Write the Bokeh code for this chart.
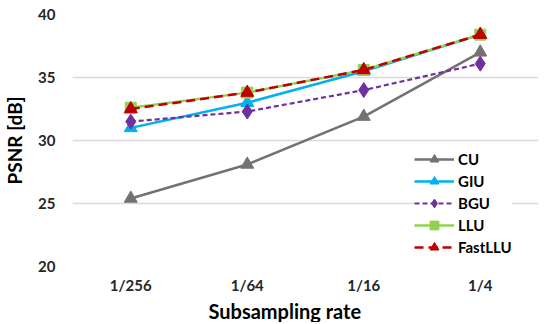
from bokeh.plotting import figure
from bokeh.models import FactorRange, Range1d, Legend, LegendItem, FixedTicker, Title
from bokeh.embed import file_html
from bokeh.resources import INLINE

categories = ["1/256", "1/64", "1/16", "1/4"]
cu = [25.4, 28.1, 31.9, 37.0]
giu = [31.0, 33.0, 35.5, 38.4]
bgu = [31.5, 32.3, 34.0, 36.1]
llu = [32.6, 33.8, 35.6, 38.4]
fastllu = [32.5, 33.8, 35.6, 38.4]
y_ticks = [20, 25, 30, 35, 40]

FONT = "Lato"

p = figure(x_range=FactorRange(*categories), y_range=Range1d(20, 40),
           width=538, height=322, output_backend="svg", toolbar_location=None,
           min_border_left=66, min_border_right=0, min_border_top=14, min_border_bottom=20)
p.outline_line_color = None
p.xgrid.grid_line_color = None
p.ygrid.grid_line_color = "#d9d9d9"
p.ygrid.grid_line_width = 1.5
p.yaxis.ticker = FixedTicker(ticks=y_ticks)
for ax in (p.xaxis, p.yaxis):
    ax.axis_line_color = None
    ax.major_tick_line_color = None
    ax.minor_tick_line_color = None
    ax.major_tick_out = 0
    ax.major_tick_in = 0
    ax.minor_tick_out = 0
    ax.minor_tick_in = 0
    ax.major_label_text_font = FONT
    ax.major_label_text_font_style = "bold"
    ax.major_label_text_font_size = "15px"
    ax.major_label_text_color = "#262626"
    ax.axis_label_text_font = FONT
    ax.axis_label_text_font_style = "bold"
    ax.axis_label_text_font_size = "19px"
    ax.axis_label_text_color = "#000000"
p.yaxis.major_label_standoff = 17
p.xaxis.major_label_standoff = 9
p.xaxis.axis_label_standoff = 0
p.yaxis.axis_label = "PSNR [dB]"
p.yaxis.axis_label_standoff = 9

xtitle = Title(text="Subsampling rate", align="left", offset=136, standoff=0,
               text_font=FONT, text_font_style="bold", text_font_size="20px",
               text_color="#000000")
p.add_layout(xtitle, "below")

items = []
r1 = p.line(categories, cu, line_color="#767171", line_width=2.5)
m1 = p.scatter(categories, cu, marker="triangle", size=13, color="#767171")
items.append(LegendItem(label="CU", renderers=[r1, m1]))
r2 = p.line(categories, giu, line_color="#00b0f0", line_width=2.5)
m2 = p.scatter(categories, giu, marker="triangle", size=13, color="#00b0f0")
items.append(LegendItem(label="GIU", renderers=[r2, m2]))
r3 = p.line(categories, bgu, line_color="#7030a0", line_width=2.2, line_dash="5 3")
m3 = p.scatter(categories, bgu, marker="diamond", size=15, color="#7030a0")
items.append(LegendItem(label="BGU", renderers=[r3, m3]))
r4 = p.line(categories, llu, line_color="#92d050", line_width=2.5)
m4 = p.scatter(categories, llu, marker="square", size=11, color="#92d050")
items.append(LegendItem(label="LLU", renderers=[r4, m4]))
r5 = p.line(categories, fastllu, line_color="#c00000", line_width=2.5, line_dash="9 5")
m5 = p.scatter(categories, fastllu, marker="triangle", size=13, color="#c00000")
items.append(LegendItem(label="FastLLU", renderers=[r5, m5]))

legend = Legend(items=items, location=(342, 8))
legend.border_line_color = None
legend.background_fill_color = "white"
legend.background_fill_alpha = 1
legend.padding = 0
legend.margin = 0
legend.spacing = 0
legend.label_height = 22
legend.glyph_height = 22
legend.glyph_width = 40
legend.label_standoff = 4
legend.label_text_font = FONT
legend.label_text_font_style = "bold"
legend.label_text_font_size = "15px"
legend.label_text_color = "#000000"
p.add_layout(legend, "center")

open("out.html", "w").write(file_html(p, INLINE))
